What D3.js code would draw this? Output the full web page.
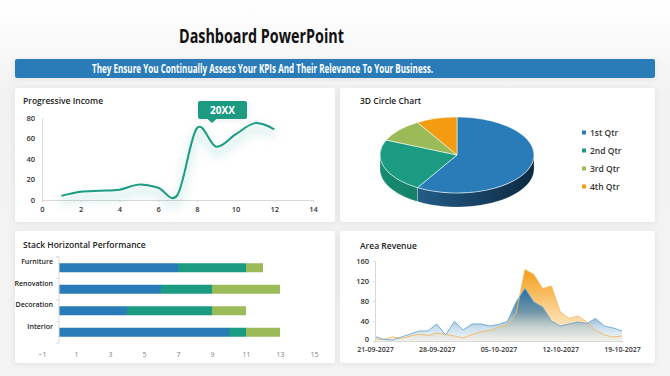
<!DOCTYPE html>
<html>
<head>
<meta charset="utf-8">
<script src="https://cdn.jsdelivr.net/npm/d3@7"></script>
<style>
  body { margin: 0; background: #fff; }
  svg { display: block; font-family: "Open Sans", sans-serif; }
</style>
</head>
<body>
<svg id="dash" width="670" height="376"></svg>
<script>
/*********************************
   DATA
 *********************************/
const incomeX = [1, 2, 3, 4, 5, 6, 7, 8, 9, 10, 11, 12];
const incomeY = [4, 8, 9, 10, 15, 12, 5, 70, 52, 64, 75, 69];
const incomeXTicks = [0, 2, 4, 6, 8, 10, 12, 14];
const incomeYTicks = [0, 20, 40, 60, 80];

const pieLabels = ["1st Qtr", "2nd Qtr", "3rd Qtr", "4th Qtr"];
const pieValues = [8.2, 3.2, 1.4, 1.2];

const barCategories = ["Furniture", "Renovation", "Decoration", "Interior"];
const barSeriesA = [7, 6, 4, 10];
const barSeriesB = [4, 3, 5, 1];
const barSeriesC = [1, 4, 2, 2];
const barTicks = [-1, 1, 3, 5, 7, 9, 11, 13, 15];

const revenueStart = "2027-09-21";
const revenueBlue = [9, 3, 2, 8, 14, 20, 20, 34, 12, 39, 22, 34, 34, 30, 33, 39, 78, 105, 78, 68, 40, 30, 34, 38, 35, 45, 30, 26, 20];
const revenueOrange = [4, 3, 8, 5, 10, 14, 11, 16, 13, 10, 6, 13, 19, 21, 28, 32, 55, 143, 133, 105, 110, 58, 45, 50, 38, 22, 12, 8, 10];
const revenueYTicks = [0, 40, 80, 120, 160];
const revenueXTicks = ["2027-09-21", "2027-09-28", "2027-10-05", "2027-10-12", "2027-10-19"];

const blue = "#2a7cb8", teal = "#1a9b82", green = "#9bbb59", orange = "#f39c12";

let svg = d3.select("#dash");
let defs = svg.append("defs");

// Page Background
let bg = defs.append("linearGradient").attr("id", "pageBg").attr("x1", 0).attr("x2", 0).attr("y1", 0).attr("y2", 1);
bg.append("stop").attr("offset", "0%").attr("stop-color", "#ffffff");
bg.append("stop").attr("offset", "25%").attr("stop-color", "#f2f2f2");
bg.append("stop").attr("offset", "100%").attr("stop-color", "#f4f4f4");
svg.append("rect").attr("width", 670).attr("height", 376).attr("fill", "url(#pageBg)");

// Shadow Filters
let sh = defs.append("filter").attr("id", "shadow").attr("x", "-10%").attr("y", "-10%").attr("width", "120%").attr("height", "130%");
sh.append("feDropShadow").attr("dx", 0).attr("dy", 1).attr("stdDeviation", 3).attr("flood-color", "#000").attr("flood-opacity", 0.08);
let blur = defs.append("filter").attr("id", "blur").attr("x", "-20%").attr("y", "-50%").attr("width", "140%").attr("height", "200%");
blur.append("feGaussianBlur").attr("stdDeviation", 4);

// Title & Banner
svg.append("text").attr("x", 179).attr("y", 43).attr("textLength", 165).attr("lengthAdjust", "spacingAndGlyphs")
  .style("font-size", "19px").style("font-weight", 700).attr("fill", "#111").text("Dashboard PowerPoint");
svg.append("rect").attr("x", 15).attr("y", 59).attr("width", 640).attr("height", 19).attr("rx", 2)
  .attr("fill", blue).attr("filter", "url(#shadow)");
svg.append("text").attr("x", 92).attr("y", 72.5).attr("textLength", 341).attr("lengthAdjust", "spacingAndGlyphs")
  .style("font-size", "11.5px").style("font-weight", 700).attr("fill", "#fff")
  .text("They Ensure You Continually Assess Your KPIs And Their Relevance To Your Business.");

// Cards
const cards = [[15, 88, 320, 134], [340, 88, 315, 134], [15, 231, 320, 132], [340, 231, 315, 132]];
cards.forEach((c) => {
  svg.append("rect").attr("x", c[0]).attr("y", c[1]).attr("width", c[2]).attr("height", c[3]).attr("rx", 3)
    .attr("fill", "#fff").attr("filter", "url(#shadow)");
});

function cardTitle(x, y, t) {
  svg.append("text").attr("x", x).attr("y", y).style("font-size", "8.5px").style("font-weight", 600).attr("fill", "#222").text(t);
}
cardTitle(23, 104, "Progressive Income");
cardTitle(360, 104, "3D Circle Chart");
cardTitle(23, 248, "Stack Horizontal Performance");
cardTitle(360, 249, "Area Revenue");

function styleAxis(g, size, weight, color) {
  g.select(".domain").attr("stroke", "#d9d9d9");
  g.selectAll(".tick line").attr("stroke", "#d9d9d9");
  g.selectAll("text").style("font-size", size).style("font-weight", weight).attr("fill", color).style("font-family", "'Open Sans', sans-serif");
}

/*********************************
   PROGRESSIVE INCOME (LINE)
 *********************************/
let xL = d3.scaleLinear().domain([0, 14]).range([42, 313]);
let yL = d3.scaleLinear().domain([0, 80]).range([200, 118]);

let gxL = svg.append("g").attr("transform", "translate(0,200)")
  .call(d3.axisBottom(xL).tickValues(incomeXTicks).tickSize(2).tickPadding(5));
styleAxis(gxL, "7.5px", 600, "#333");
let gyL = svg.append("g").attr("transform", "translate(42,0)")
  .call(d3.axisLeft(yL).tickValues(incomeYTicks).tickSize(0).tickPadding(7));
styleAxis(gyL, "7.5px", 600, "#333");

let incomeLine = d3.line().x((d, i) => xL(incomeX[i])).y((d) => yL(d)).curve(d3.curveCatmullRom.alpha(0));
svg.append("path").datum(incomeY).attr("d", incomeLine).attr("fill", "none")
  .attr("stroke", teal).attr("stroke-opacity", 0.12).attr("stroke-width", 9).attr("transform", "translate(0,6)").attr("filter", "url(#blur)");
svg.append("path").datum(incomeY).attr("d", incomeLine).attr("fill", "none")
  .attr("stroke", teal).attr("stroke-width", 2);

// Tooltip Bubble
svg.append("rect").attr("x", 198).attr("y", 101).attr("width", 49).attr("height", 18).attr("rx", 2).attr("fill", teal).attr("filter", "url(#shadow)");
svg.append("path").attr("d", "M207,118.5L212,123L217,118.5Z").attr("fill", teal);
svg.append("text").attr("x", 222.5).attr("y", 114).attr("text-anchor", "middle").style("font-size", "10px").style("font-weight", 700).attr("fill", "#fff").text("20XX");

/*********************************
   3D CIRCLE CHART
 *********************************/
const pieColors = [blue, teal, green, orange];
const sideColors = [["#2b6c9e", "#0c2a42"], ["#178a70", "#0f6a56"], ["#86a44a", "#6f8a3a"], ["#d98a10", "#b8740c"]];
let cx = 457, cy = 155, rx = 77, ry = 38, depth = 14;
let slices = d3.pie().sort(null)(pieValues);

slices.forEach((s, i) => {
  let gr = defs.append("linearGradient").attr("id", "side" + i).attr("gradientUnits", "userSpaceOnUse")
    .attr("x1", cx - rx).attr("x2", cx + rx).attr("y1", 0).attr("y2", 0);
  gr.append("stop").attr("offset", "0%").attr("stop-color", sideColors[i][0]);
  gr.append("stop").attr("offset", "100%").attr("stop-color", sideColors[i][1]);
});

function ept(a, dy) { return [cx + rx * Math.sin(a), cy - ry * Math.cos(a) + dy]; }

// Side Walls (Front Half Only)
slices.forEach((s, i) => {
  let a0 = Math.max(s.startAngle, Math.PI / 2), a1 = Math.min(s.endAngle, Math.PI * 1.5);
  if (a1 <= a0) return;
  let pts = [];
  for (let k = 0; k <= 40; k++) pts.push(ept(a0 + (a1 - a0) * k / 40, 0));
  for (let k = 40; k >= 0; k--) pts.push(ept(a0 + (a1 - a0) * k / 40, depth));
  svg.append("path").attr("d", d3.line()(pts) + "Z").attr("fill", "url(#side" + i + ")")
    .attr("stroke", "#fff").attr("stroke-opacity", 0.4).attr("stroke-width", 0.6);
});

// Top Face
let pieArc = d3.arc().innerRadius(0).outerRadius(rx);
svg.append("g").attr("transform", "translate(" + cx + "," + cy + ") scale(1," + (ry / rx) + ")")
  .selectAll("path").data(slices).enter().append("path")
  .attr("d", pieArc).attr("fill", (d, i) => pieColors[i])
  .attr("stroke", "#fff").attr("stroke-opacity", 0.7).attr("stroke-width", 1);

// Legend
pieLabels.forEach((l, i) => {
  let y = 133 + i * 18;
  svg.append("rect").attr("x", 582).attr("y", y - 2.5).attr("width", 4).attr("height", 4).attr("fill", pieColors[i]);
  svg.append("text").attr("x", 590).attr("y", y + 2.8).style("font-size", "8.5px").style("font-weight", 600).attr("fill", "#333").text(l);
});

/*********************************
   STACK HORIZONTAL PERFORMANCE
 *********************************/
let xB = d3.scaleLinear().domain([-1, 15]).range([42, 314]);
let yB = d3.scaleBand().domain(barCategories).range([257, 343]);
let barColors = [blue, teal, green];
let barSeries = [barSeriesA, barSeriesB, barSeriesC];
let stacked = d3.stack().keys([0, 1, 2]).value((d, k) => barSeries[k][d])(barCategories.map((c, i) => i));

stacked.forEach((layer, k) => {
  svg.append("g").selectAll("rect").data(layer).enter().append("rect")
    .attr("x", (d) => xB(d[0])).attr("width", (d) => xB(d[1]) - xB(d[0]))
    .attr("y", (d, i) => yB(barCategories[i]) + yB.bandwidth() / 2 - 4.5).attr("height", 9)
    .attr("fill", barColors[k]);
});

let gyB = svg.append("g").attr("transform", "translate(" + xB(0) + ",0)");
gyB.append("line").attr("y1", 257).attr("y2", 343).attr("stroke", "#d9d9d9");
[257, 343].concat(barCategories.map((c) => yB(c))).forEach((y) => {
  gyB.append("line").attr("x1", -3).attr("x2", 0).attr("y1", y).attr("y2", y).attr("stroke", "#d9d9d9");
});
barCategories.forEach((c) => {
  svg.append("text").attr("x", 53).attr("y", yB(c) + yB.bandwidth() / 2 - 3.5).attr("text-anchor", "end")
    .style("font-size", "7px").style("font-weight", 600).attr("fill", "#222").text(c);
});
let gxB = svg.append("g").attr("transform", "translate(0,346)")
  .call(d3.axisBottom(xB).tickValues(barTicks).tickSize(0).tickPadding(6));
gxB.select(".domain").remove();
styleAxis(gxB, "7px", 400, "#7f7f7f");

/*********************************
   AREA REVENUE
 *********************************/
let parseDay = d3.timeParse("%Y-%m-%d");
let day0 = parseDay(revenueStart);
let revenueDates = revenueBlue.map((d, i) => d3.timeDay.offset(day0, i));
let xA = d3.scaleTime().domain([revenueDates[0], revenueDates[revenueDates.length - 1]]).range([375, 622]);
let yA = d3.scaleLinear().domain([0, 160]).range([341, 261]);

let og = defs.append("linearGradient").attr("id", "orangeFill").attr("gradientUnits", "userSpaceOnUse")
  .attr("x1", 0).attr("x2", 0).attr("y1", yA(145)).attr("y2", yA(0));
og.append("stop").attr("offset", "0%").attr("stop-color", "#f39c12");
og.append("stop").attr("offset", "55%").attr("stop-color", "#fbd08e");
og.append("stop").attr("offset", "100%").attr("stop-color", "#fff4e4");
let bgd = defs.append("linearGradient").attr("id", "blueFill").attr("gradientUnits", "userSpaceOnUse")
  .attr("x1", 0).attr("x2", 0).attr("y1", yA(105)).attr("y2", yA(0));
bgd.append("stop").attr("offset", "0%").attr("stop-color", "#1f6ea8").attr("stop-opacity", 1);
bgd.append("stop").attr("offset", "45%").attr("stop-color", "#4f88ad").attr("stop-opacity", 0.8);
bgd.append("stop").attr("offset", "75%").attr("stop-color", "#9fc4df").attr("stop-opacity", 0.55);
bgd.append("stop").attr("offset", "100%").attr("stop-color", "#e6eef4").attr("stop-opacity", 0.5);

let areaGen = d3.area().x((d, i) => xA(revenueDates[i])).y0(yA(0)).y1((d) => yA(d));
let lineGen = d3.line().x((d, i) => xA(revenueDates[i])).y((d) => yA(d));
svg.append("path").datum(revenueOrange).attr("d", areaGen).attr("fill", "url(#orangeFill)");
svg.append("path").datum(revenueBlue).attr("d", areaGen).attr("fill", "url(#blueFill)");
svg.append("path").datum(revenueOrange).attr("d", lineGen).attr("fill", "none").attr("stroke", "#f5b95e").attr("stroke-width", 0.9);
svg.append("path").datum(revenueBlue).attr("d", lineGen).attr("fill", "none").attr("stroke", "#6aa5d2").attr("stroke-width", 0.9);

let gyA = svg.append("g").attr("transform", "translate(375,0)")
  .call(d3.axisLeft(yA).tickValues(revenueYTicks).tickSize(2).tickPadding(4));
styleAxis(gyA, "7.5px", 600, "#333");
gyA.selectAll(".tick text").attr("dy", (d) => d == 0 ? "0.1em" : "0.32em");
let fmt = d3.timeFormat("%d-%m-%Y");
let gxA = svg.append("g").attr("transform", "translate(0,341)")
  .call(d3.axisBottom(xA).tickValues(revenueXTicks.map(parseDay)).tickFormat(fmt).tickSize(2).tickPadding(4));
styleAxis(gxA, "7px", 600, "#333");
</script>
</body>
</html>
